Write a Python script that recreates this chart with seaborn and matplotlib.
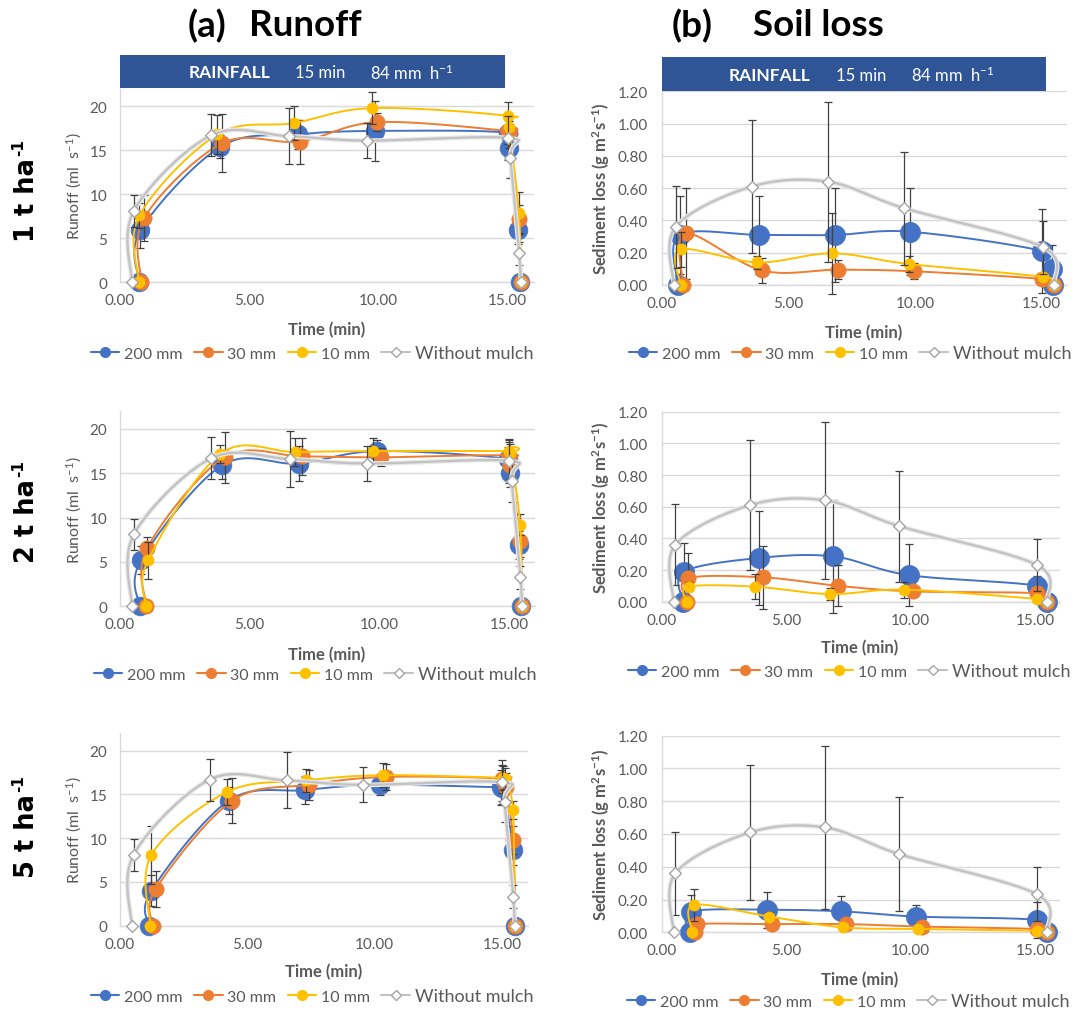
import numpy as np
import matplotlib
matplotlib.use("Agg")
import matplotlib.pyplot as plt
import seaborn as sns
from matplotlib.lines import Line2D
from matplotlib.patches import Rectangle

# ---------------- data ----------------
SERIES_LABELS = ["200 mm", "30 mm", "10 mm", "Without mulch"]
ROW_LABELS = ["1 t ha", "2 t ha", "5 t ha"]
X_TICKS = [0, 5, 10, 15]
RUNOFF_TICKS = [0, 5, 10, 15, 20]
SED_TICKS = [0.0, 0.2, 0.4, 0.6, 0.8, 1.0, 1.2]

# Runoff (ml s-1), bare soil control (same in every row)
CTRL_RUN_T = [0.47, 0.54, 3.53, 6.55, 9.54, 15.00, 15.10, 15.44, 15.50]
CTRL_RUN_V = [0, 8.1, 16.7, 16.6, 16.1, 16.4, 14.1, 3.3, 0]
CTRL_RUN_E = [0, 1.8, 2.4, 3.2, 2.0, 2.5, 2.3, 1.3, 0]

# Runoff, 1 t ha-1
R1_200_T = [0.76, 0.80, 3.89, 6.88, 9.88, 15.00, 15.05, 15.40, 15.48]
R1_200_V = [0, 5.9, 15.4, 16.8, 17.2, 17.0, 15.3, 5.9, 0]
R1_200_E = [0, 2.0, 1.3, 1.6, 3.4, 1.4, 1.3, 1.6, 0]
R1_30_T = [0.83, 0.94, 3.96, 6.96, 9.95, 15.00, 15.05, 15.42, 15.50]
R1_30_V = [0, 7.3, 15.8, 16.0, 18.2, 17.2, 16.8, 7.2, 0]
R1_30_E = [0, 2.6, 3.3, 2.5, 1.0, 1.5, 1.5, 1.6, 0]
R1_10_T = [0.74, 0.76, 3.77, 6.73, 9.76, 15.00, 15.05, 15.43, 15.50]
R1_10_V = [0, 7.6, 16.8, 18.1, 19.8, 18.9, 17.6, 7.9, 0]
R1_10_E = [0, 1.4, 2.2, 1.9, 1.8, 1.6, 1.3, 2.4, 0]

# Runoff, 2 t ha-1
R2_200_T = [0.76, 0.82, 3.94, 6.90, 9.92, 14.96, 15.03, 15.40, 15.46]
R2_200_V = [0, 5.2, 15.9, 16.1, 17.5, 16.6, 15.0, 6.9, 0]
R2_200_E = [0, 1.6, 1.6, 2.0, 1.3, 1.4, 1.5, 1.6, 0]
R2_30_T = [1.02, 1.06, 4.04, 7.04, 10.05, 15.00, 15.03, 15.42, 15.49]
R2_30_V = [0, 6.6, 16.8, 16.9, 16.8, 17.0, 15.9, 7.4, 0]
R2_30_E = [0, 1.2, 2.9, 2.1, 1.0, 1.5, 1.5, 1.8, 0]
R2_10_T = [1.02, 1.09, 3.88, 6.77, 9.76, 15.00, 15.05, 15.43, 15.49]
R2_10_V = [0, 5.2, 17.2, 17.4, 17.5, 17.5, 17.3, 9.2, 0]
R2_10_E = [0, 2.1, 1.0, 1.6, 1.5, 1.3, 1.0, 1.2, 0]

# Runoff, 5 t ha-1
R3_200_T = [1.14, 1.24, 4.28, 7.26, 10.23, 14.96, 15.00, 15.43, 15.50]
R3_200_V = [0, 4.0, 14.3, 15.5, 16.1, 15.8, 15.7, 8.7, 0]
R3_200_E = [0, 1.8, 1.5, 1.6, 1.2, 2.0, 1.5, 1.8, 0]
R3_30_T = [1.31, 1.41, 4.42, 7.43, 10.43, 15.00, 15.14, 15.43, 15.50]
R3_30_V = [0, 4.2, 14.3, 16.1, 17.0, 16.8, 15.9, 9.8, 0]
R3_30_E = [0, 2.1, 2.6, 1.7, 1.5, 1.6, 1.5, 1.6, 0]
R3_10_T = [1.20, 1.24, 4.22, 7.30, 10.34, 15.03, 15.10, 15.43, 15.50]
R3_10_V = [0, 8.1, 15.3, 16.6, 17.2, 16.9, 16.8, 13.2, 0]
R3_10_E = [0, 3.3, 1.5, 1.3, 1.4, 1.4, 1.2, 1.0, 0]

# Sediment loss (g m-2 s-1), bare soil control (same in every row)
CTRL_SED_T = [0.47, 0.54, 3.55, 6.56, 9.55, 15.07, 15.48]
CTRL_SED_V = [0, 0.36, 0.61, 0.64, 0.477, 0.233, 0]
CTRL_SED_E = [0, 0.255, 0.41, 0.495, 0.35, 0.165, 0]

# Sediment loss, 1 t ha-1
S1_200_T = [0.63, 0.70, 3.84, 6.83, 9.82, 15.04, 15.40, 15.45]
S1_200_V = [0, 0.31, 0.31, 0.31, 0.33, 0.21, 0.10, 0]
S1_200_E = [0, 0.24, 0.24, 0.29, 0.27, 0.26, 0.15, 0]
S1_30_T = [0.83, 0.94, 3.96, 6.96, 9.95, 15.04, 15.48]
S1_30_V = [0, 0.32, 0.09, 0.095, 0.085, 0.037, 0]
S1_30_E = [0, 0.28, 0.08, 0.06, 0.05, 0.02, 0]
S1_10_T = [0.74, 0.74, 3.77, 6.73, 9.76, 15.07, 15.48]
S1_10_V = [0, 0.22, 0.14, 0.196, 0.13, 0.05, 0]
S1_10_E = [0, 0.11, 0.04, 0.25, 0.05, 0.02, 0]

# Sediment loss, 2 t ha-1
S2_200_T = [0.85, 0.89, 3.89, 6.90, 9.92, 15.10, 15.47]
S2_200_V = [0, 0.19, 0.276, 0.286, 0.168, 0.10, 0]
S2_200_E = [0, 0.18, 0.295, 0.355, 0.195, 0.06, 0]
S2_30_T = [0.99, 1.03, 4.07, 7.08, 10.10, 15.10, 15.49]
S2_30_V = [0, 0.147, 0.154, 0.10, 0.065, 0.053, 0]
S2_30_E = [0, 0.16, 0.20, 0.13, 0.03, 0.03, 0]
S2_10_T = [0.99, 1.08, 3.75, 6.77, 9.75, 15.10, 15.49]
S2_10_V = [0, 0.095, 0.095, 0.048, 0.076, 0.017, 0]
S2_10_E = [0, 0.03, 0.08, 0.04, 0.05, 0.01, 0]

# Sediment loss, 5 t ha-1
S3_200_T = [1.12, 1.19, 4.23, 7.22, 10.23, 15.10, 15.47]
S3_200_V = [0, 0.126, 0.138, 0.128, 0.096, 0.075, 0]
S3_200_E = [0, 0.10, 0.11, 0.095, 0.07, 0.11, 0]
S3_30_T = [1.33, 1.42, 4.41, 7.42, 10.44, 15.10, 15.50]
S3_30_V = [0, 0.05, 0.05, 0.05, 0.035, 0.02, 0]
S3_30_E = [0, 0.02, 0.02, 0.02, 0.02, 0.01, 0]
S3_10_T = [1.23, 1.30, 4.32, 7.29, 10.30, 15.10, 15.50]
S3_10_V = [0, 0.167, 0.096, 0.03, 0.02, 0.01, 0]
S3_10_E = [0, 0.10, 0.03, 0.01, 0.01, 0.01, 0]

# ---------------- style ----------------
sns.set_theme(style="white")
plt.rcParams["font.family"] = ["Lato", "DejaVu Sans"]
plt.rcParams["mathtext.fontset"] = "custom"
plt.rcParams["mathtext.rm"] = "Lato"
plt.rcParams["mathtext.it"] = "Lato:italic"
plt.rcParams["mathtext.bf"] = "Lato:bold"
plt.rcParams["mathtext.sf"] = "Lato"

BLUE, ORANGE, YELLOW, GRAY = "#4472C4", "#ED7D31", "#FFC000", "#A5A5A5"
TXT = "#595959"
GRID = "#D9D9D9"
BANNER = "#2F5597"
ERR = "#404040"

W, H = 1074, 1012
fig = plt.figure(figsize=(W / 100, H / 100), dpi=100)
fig.patch.set_facecolor("white")


def fx(x):
    return x / W


def fy(y):
    return 1 - y / H


def smooth(t, v, sx, sy, n=30):
    """Bezier smoothing through every point (Catmull-Rom style control points)."""
    P = np.column_stack([np.asarray(t, float) * sx, np.asarray(v, float) * sy])
    ext = np.vstack([P[0], P, P[-1]])
    parts = []
    for i in range(len(P) - 1):
        p0, p1, p2, p3 = ext[i], ext[i + 1], ext[i + 2], ext[i + 3]
        c1 = p1 + (p2 - p0) / 6.0
        c2 = p2 - (p3 - p1) / 6.0
        s = np.linspace(0, 1, n)[:, None]
        seg = (1 - s) ** 3 * p1 + 3 * (1 - s) ** 2 * s * c1 + 3 * (1 - s) * s ** 2 * c2 + s ** 3 * p2
        parts.append(seg)
    out = np.vstack(parts)
    return out[:, 0] / sx, out[:, 1] / sy


def draw_series(ax, t, v, e, color, marker, ms, z, sx, sy, face=None, lw=1.4):
    t = np.asarray(t, float)
    v = np.asarray(v, float)
    e = np.asarray(e, float)
    m = e > 0
    ax.errorbar(t[m], v[m], yerr=e[m], fmt="none", ecolor=ERR, elinewidth=0.9,
                capsize=3, capthick=0.9, zorder=z, clip_on=False)
    xs, ys = smooth(t, v, sx, sy)
    line_color = color
    if color == GRAY:
        # soft shadow under the bare-soil curve
        sns.lineplot(x=xs, y=ys, sort=False, estimator=None, color="#E8E8E8",
                     lw=3.4, ax=ax, zorder=z + 0.05, legend=False, clip_on=False)
        line_color = "#C2C2C2"
    sns.lineplot(x=xs, y=ys, sort=False, estimator=None, color=line_color, lw=lw,
                 ax=ax, zorder=z + 0.1, legend=False, clip_on=False)
    fc = color if face is None else face
    sns.scatterplot(x=t, y=v, marker=marker, s=ms ** 2, color=fc, edgecolor=color,
                    linewidth=1.0 if face else 0.5, ax=ax, zorder=z + 0.2,
                    legend=False, clip_on=False)


# pixel boxes of the plot areas: (left, right, top, bottom)
BOXES = {
    ("run", 0): (119.8, 533.7, 89.7, 283.3),
    ("run", 1): (119.8, 535.0, 412.2, 607.3),
    ("run", 2): (119.8, 527.5, 734.2, 926.7),
    ("sed", 0): (661.9, 1066.7, 92.3, 286.0),
    ("sed", 1): (661.9, 1059.8, 412.7, 602.7),
    ("sed", 2): (661.9, 1059.8, 736.7, 933.3),
}
XLABEL_POS = {
    ("run", 0): (327, 330), ("run", 1): (327, 655), ("run", 2): (324, 972),
    ("sed", 0): (864, 333), ("sed", 1): (860, 648), ("sed", 2): (860, 980),
}
LEGEND_POS = {
    ("run", 0): (312, 354), ("run", 1): (315, 675), ("run", 2): (312, 997),
    ("sed", 0): (850, 354), ("sed", 1): (849, 672), ("sed", 2): (848, 1002),
}

RUN_DATA = [
    [(R1_200_T, R1_200_V, R1_200_E), (R1_30_T, R1_30_V, R1_30_E), (R1_10_T, R1_10_V, R1_10_E)],
    [(R2_200_T, R2_200_V, R2_200_E), (R2_30_T, R2_30_V, R2_30_E), (R2_10_T, R2_10_V, R2_10_E)],
    [(R3_200_T, R3_200_V, R3_200_E), (R3_30_T, R3_30_V, R3_30_E), (R3_10_T, R3_10_V, R3_10_E)],
]
SED_DATA = [
    [(S1_200_T, S1_200_V, S1_200_E), (S1_30_T, S1_30_V, S1_30_E), (S1_10_T, S1_10_V, S1_10_E)],
    [(S2_200_T, S2_200_V, S2_200_E), (S2_30_T, S2_30_V, S2_30_E), (S2_10_T, S2_10_V, S2_10_E)],
    [(S3_200_T, S3_200_V, S3_200_E), (S3_30_T, S3_30_V, S3_30_E), (S3_10_T, S3_10_V, S3_10_E)],
]

legend_handles = [
    Line2D([], [], color=BLUE, lw=1.5, marker="o", ms=7, mfc=BLUE, mec=BLUE),
    Line2D([], [], color=ORANGE, lw=1.5, marker="o", ms=7, mfc=ORANGE, mec=ORANGE),
    Line2D([], [], color=YELLOW, lw=1.5, marker="o", ms=7, mfc=YELLOW, mec=YELLOW),
    Line2D([], [], color="#C2C2C2", lw=1.5, marker="D", ms=5, mfc="white", mec=GRAY),
]

for kind in ("run", "sed"):
    for row in range(3):
        box = BOXES[(kind, row)]
        x0, x1, yt, yb = box
        ax = fig.add_axes([fx(x0), fy(yb), (x1 - x0) / W, (yb - yt) / H])
        ymax = 22 if kind == "run" else 1.2
        ax.set_xlim(0, 16)
        ax.set_ylim(0, ymax)
        sx = (x1 - x0) / 16
        sy = (yb - yt) / ymax

        data = RUN_DATA[row] if kind == "run" else SED_DATA[row]
        big = 13.5 if kind == "run" else 14.5
        specs = [(BLUE, "o", big), (ORANGE, "o", 11), (YELLOW, "o", 8)]
        for k, ((t, v, e), (c, mk, ms)) in enumerate(zip(data, specs)):
            draw_series(ax, t, v, e, c, mk, ms, 3 + k, sx, sy)
        if kind == "run":
            draw_series(ax, CTRL_RUN_T, CTRL_RUN_V, CTRL_RUN_E, GRAY, "D", 6, 7, sx, sy,
                        face="white", lw=1.6)
        else:
            draw_series(ax, CTRL_SED_T, CTRL_SED_V, CTRL_SED_E, GRAY, "D", 6, 7, sx, sy,
                        face="white", lw=1.6)

        # axes styling
        for s in ("top", "right"):
            ax.spines[s].set_visible(False)
        for s in ("left", "bottom"):
            ax.spines[s].set_color(GRID)
            ax.spines[s].set_linewidth(1.0)
        ax.set_xticks(X_TICKS)
        ax.set_xticklabels([f"{x:.2f}" for x in X_TICKS])
        if kind == "run":
            ax.set_yticks(RUNOFF_TICKS)
            ax.set_yticklabels([str(y) for y in RUNOFF_TICKS])
        else:
            ax.set_yticks(SED_TICKS)
            ax.set_yticklabels([f"{y:.2f}" for y in SED_TICKS])
        ax.grid(axis="y", color=GRID, lw=1.0)
        ax.grid(axis="x", visible=False)
        ax.set_axisbelow(True)
        ax.tick_params(axis="both", length=0, labelsize=11, labelcolor=TXT)
        ax.tick_params(axis="x", pad=8)
        ax.tick_params(axis="y", pad=9 if kind == "run" else 10)

        # axis titles
        ax.set_xlabel("Time (min)", fontsize=12, fontweight="bold", color=TXT)
        px, py = XLABEL_POS[(kind, row)]
        ax.xaxis.set_label_coords((px - x0) / (x1 - x0), (yb - py) / (yb - yt))
        ax.xaxis.label.set_va("center")
        if kind == "run":
            ax.set_ylabel(r"Runoff (ml  s$^{-1}$)", fontsize=11.5, color=TXT)
            ylx = 74
        else:
            ax.set_ylabel(r"Sediment loss (g m$^{\mathbf{2}}$s$^{\mathbf{-1}}$)", fontsize=12,
                          fontweight="bold", color=TXT)
            ylx = 601.5
        ax.yaxis.set_label_coords((ylx - x0) / (x1 - x0), 0.5)
        ax.yaxis.label.set_va("center")

        # legend under each panel
        lx, ly = LEGEND_POS[(kind, row)]
        leg = ax.legend(legend_handles, SERIES_LABELS, loc="center",
                        bbox_to_anchor=(fx(lx), fy(ly)), bbox_transform=fig.transFigure,
                        ncol=4, frameon=False, fontsize=11.5, handlelength=1.8,
                        handletextpad=0.3, columnspacing=0.7, borderpad=0, borderaxespad=0)
        for txt in leg.get_texts():
            txt.set_color(TXT)
        leg.get_texts()[3].set_fontsize(13)

# rainfall banners above the first row
for (bx0, bx1, by0, by1), cx_rain, cx_min, x_int in [
    ((119.8, 505.5, 56.0, 89.0), 229, 320, 370),
    ((661.9, 1045.8, 58.3, 92.3), 770, 861, 910.6),
]:
    fig.patches.append(Rectangle((fx(bx0), fy(by1)), (bx1 - bx0) / W, (by1 - by0) / H,
                                 transform=fig.transFigure, facecolor=BANNER,
                                 edgecolor="none", zorder=1))
    yc = fy((by0 + by1) / 2 + 0.5)
    fig.text(fx(cx_rain), yc, "RAINFALL", color="white", fontsize=12.5, fontweight="bold",
             ha="center", va="center", zorder=2)
    fig.text(fx(cx_min), yc, "15 min", color="white", fontsize=12, ha="center", va="center", zorder=2)
    fig.text(fx(x_int), yc, r"84 mm  h$^{-1}$", color="white", fontsize=12, ha="left",
             va="center", zorder=2)

# column titles
TITLE_KW = dict(fontsize=26.5, fontweight="bold", ha="center", va="center", color="black")
fig.text(fx(206.6), fy(26), "(a)", **TITLE_KW)
fig.text(fx(305.6), fy(26), "Runoff", **TITLE_KW)
fig.text(fx(692.4), fy(26), "(b)", **TITLE_KW)
fig.text(fx(818.4), fy(26), "Soil loss", **TITLE_KW)

# row labels (mulch rate)
for label, yc_main, yc_sup in zip(ROW_LABELS, [200, 521, 836], [148, 469, 784]):
    fig.text(fx(27), fy(yc_main), label, rotation=90, fontsize=18.5, fontweight="bold",
             family="DejaVu Sans", ha="center", va="center", color="black")
    fig.text(fx(18.5), fy(yc_sup), "-1", rotation=90, fontsize=11, fontweight="bold",
             family="DejaVu Sans", ha="center", va="center", color="black")

fig.savefig("out.png", dpi=100, facecolor="white")
